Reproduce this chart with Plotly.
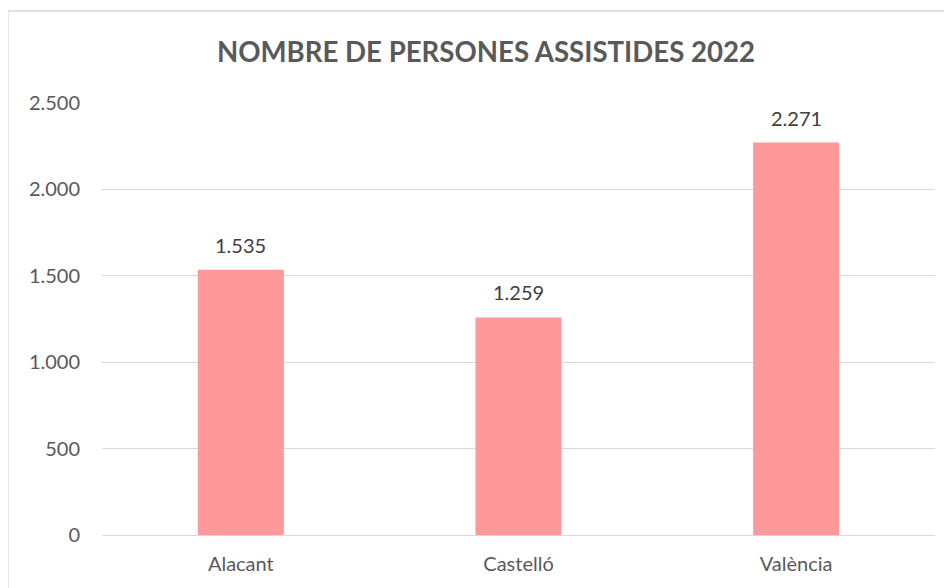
import plotly.graph_objects as go

categories = ["Alacant", "Castelló", "València"]
values = [1535, 1259, 2271]
y_ticks = [0, 500, 1000, 1500, 2000, 2500]

# page body has an 8px margin, so the figure is drawn at (8, 8)
OFF = 8
W, H = 952 - OFF, 588 - OFF
L, R, T, B = 102 - OFF, 952 - 935, 103 - OFF, 588 - 535
pw, ph = W - L - R, H - T - B

def px_x(x):
    return (x - OFF - L) / pw

def px_y(y):
    return (H - B - (y - OFF)) / ph

fig = go.Figure(go.Bar(
    x=categories, y=values,
    marker=dict(color="#FF9999", line=dict(width=0)),
    width=0.31,
    hoverinfo="x+y",
))

for c, v in zip(categories, values):
    fig.add_annotation(x=c, y=v, text=f"{v:,}".replace(",", "."), showarrow=False,
                       yanchor="bottom", yshift=11,
                       font=dict(family="Lato, sans-serif", size=20, color="#404040"))

fig.update_layout(
    width=W, height=H,
    margin=dict(l=L, r=R, t=T, b=B),
    paper_bgcolor="white", plot_bgcolor="white",
    separators=",.",
    showlegend=False,
    title=dict(text="<b>NOMBRE DE PERSONES ASSISTIDES 2022</b>",
               x=(486 - OFF) / W, xanchor="center", y=1 - (52 - OFF) / H, yanchor="middle",
               font=dict(family="Lato, sans-serif", size=27.6, color="#595959")),
    font=dict(family="Lato, sans-serif", size=20, color="#595959"),
)
fig.update_yaxes(range=[0, 2500], tickvals=y_ticks, separatethousands=True, tickformat=",d",
                 showgrid=True, gridcolor="#d9d9d9", gridwidth=1,
                 zeroline=True, zerolinecolor="#d9d9d9", zerolinewidth=1,
                 showline=False, ticks="", ticklabelstandoff=21,
                 tickfont=dict(size=20, color="#595959"))
fig.update_xaxes(showline=False, ticks="", ticklabelstandoff=15,
                 tickfont=dict(size=20, color="#595959"))

fig.add_shape(type="rect", xref="paper", yref="paper",
              x0=px_x(8), x1=px_x(948), y0=px_y(620), y1=px_y(11),
              line=dict(color="#d9d9d9", width=1.3), fillcolor="rgba(0,0,0,0)", layer="below")

fig.write_html("out.html")
